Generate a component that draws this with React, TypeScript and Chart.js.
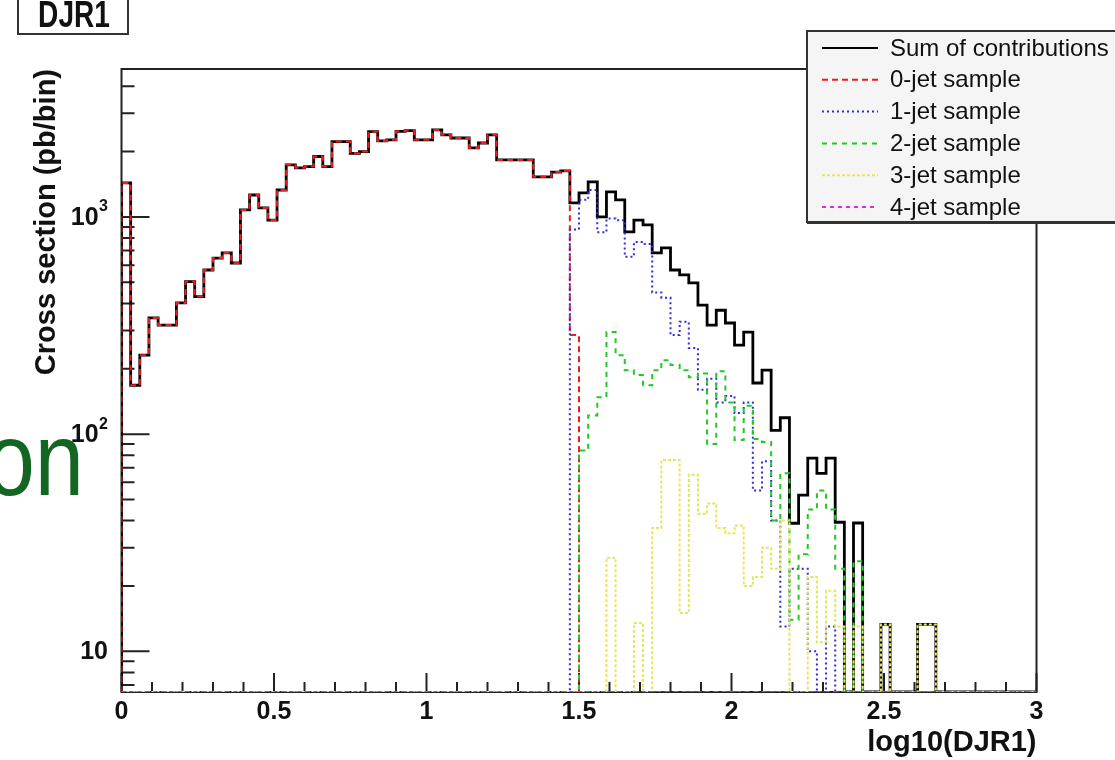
import React, { useEffect, useRef } from "react";
import { Chart, registerables } from "chart.js";

Chart.register(...registerables);

const FONT = '"Liberation Sans", Arial, Helvetica, sans-serif';

const X_MIN = 0;
const X_MAX = 3;
const Y_MIN = 6.5;
const Y_MAX = 4800;

// 100 bins of 0.03 in log10(DJR1)
const sumOfContributions = [
  1435, 168, 231, 343, 318, 318, 402, 504, 430, 570,
  647, 683, 614, 1077, 1262, 1100, 968, 1331, 1738, 1683,
  1706, 1898, 1706, 2225, 2225, 1963, 2000, 2471, 2240, 2265,
  2480, 2500, 2265, 2265, 2517, 2390, 2310, 2310, 2080, 2190,
  2390, 1830, 1830, 1830, 1830, 1530, 1530, 1610, 1630, 1160,
  1290, 1450, 1000, 1305, 1198, 853, 968, 919, 683, 720,
  570, 541, 497, 393, 318, 372, 325, 257, 295, 172,
  197, 104, 119, 38.9, 52.4, 77.5, 66, 77.5, 39.3, 0,
  39, 0, 0, 13.3, 0, 0, 0, 13.3, 13.3, 0,
  0, 0, 0, 0, 0, 0, 0, 0, 0, 0,
];

const jet0Sample = [
  1435, 168, 231, 343, 318, 318, 402, 504, 430, 570,
  647, 683, 614, 1077, 1262, 1100, 968, 1331, 1738, 1683,
  1706, 1898, 1706, 2225, 2225, 1963, 2000, 2471, 2240, 2265,
  2480, 2500, 2265, 2265, 2517, 2390, 2310, 2310, 2080, 2190,
  2390, 1830, 1830, 1830, 1830, 1530, 1530, 1610, 1630, 286,
  0, 0, 0, 0, 0, 0, 0, 0, 0, 0,
  0, 0, 0, 0, 0, 0, 0, 0, 0, 0,
  0, 0, 0, 0, 0, 0, 0, 0, 0, 0,
  0, 0, 0, 0, 0, 0, 0, 0, 0, 0,
  0, 0, 0, 0, 0, 0, 0, 0, 0, 0,
];

const jet1Sample = [
  0, 0, 0, 0, 0, 0, 0, 0, 0, 0,
  0, 0, 0, 0, 0, 0, 0, 0, 0, 0,
  0, 0, 0, 0, 0, 0, 0, 0, 0, 0,
  0, 0, 0, 0, 0, 0, 0, 0, 0, 0,
  0, 0, 0, 0, 0, 0, 0, 0, 0, 875,
  1200, 1330, 850, 983, 967, 656, 767, 751, 449, 425,
  286, 329, 249, 160, 180, 140, 150, 125, 140, 55,
  75, 40, 13, 24, 24, 10, 0, 13, 0, 0,
  0, 0, 0, 0, 0, 0, 0, 0, 0, 0,
  0, 0, 0, 0, 0, 0, 0, 0, 0, 0,
];

const jet2Sample = [
  0, 0, 0, 0, 0, 0, 0, 0, 0, 0,
  0, 0, 0, 0, 0, 0, 0, 0, 0, 0,
  0, 0, 0, 0, 0, 0, 0, 0, 0, 0,
  0, 0, 0, 0, 0, 0, 0, 0, 0, 0,
  0, 0, 0, 0, 0, 0, 0, 0, 0, 0,
  84, 122, 148, 295, 231, 197, 187, 168, 197, 219,
  208, 197, 183, 190, 90, 195, 140, 94, 135, 95,
  92, 40, 66, 14, 28, 45, 55, 45, 24, 0,
  26, 0, 0, 0, 0, 0, 0, 0, 0, 0,
  0, 0, 0, 0, 0, 0, 0, 0, 0, 0,
];

const jet3Sample = [
  0, 0, 0, 0, 0, 0, 0, 0, 0, 0,
  0, 0, 0, 0, 0, 0, 0, 0, 0, 0,
  0, 0, 0, 0, 0, 0, 0, 0, 0, 0,
  0, 0, 0, 0, 0, 0, 0, 0, 0, 0,
  0, 0, 0, 0, 0, 0, 0, 0, 0, 0,
  0, 0, 0, 27, 0, 0, 13.5, 0, 37, 76,
  76, 15, 65, 43, 48, 37, 35, 38, 20, 22,
  30, 24, 40, 0, 0, 22, 11, 19, 13, 0,
  13, 0, 0, 13.3, 0, 0, 0, 13.3, 13.3, 0,
  0, 0, 0, 0, 0, 0, 0, 0, 0, 0,
];

const jet4Sample = [
  0, 0, 0, 0, 0, 0, 0, 0, 0, 0,
  0, 0, 0, 0, 0, 0, 0, 0, 0, 0,
  0, 0, 0, 0, 0, 0, 0, 0, 0, 0,
  0, 0, 0, 0, 0, 0, 0, 0, 0, 0,
  0, 0, 0, 0, 0, 0, 0, 0, 0, 0,
  0, 0, 0, 0, 0, 0, 0, 0, 0, 0,
  0, 0, 0, 0, 0, 0, 0, 0, 0, 0,
  0, 0, 0, 0, 0, 0, 0, 0, 0, 0,
  0, 0, 0, 0, 0, 0, 0, 0, 0, 0,
  0, 0, 0, 0, 0, 0, 0, 0, 0, 0,
];

const seriesLabels = [
  "Sum of contributions",
  "0-jet sample",
  "1-jet sample",
  "2-jet sample",
  "3-jet sample",
  "4-jet sample",
];
const seriesValues = [sumOfContributions, jet0Sample, jet1Sample, jet2Sample, jet3Sample, jet4Sample];
const seriesColors = ["#000000", "#ee1c1c", "#2e2ed6", "#24c824", "#e6e65c", "#e02ae0"];
const seriesDashes = [[], [6, 4], [2, 3], [5, 5], [3, 2], [4, 4]];
const seriesWidths = [2.8, 2, 2, 2, 2, 2];

const xTickValues = [0, 0.5, 1, 1.5, 2, 2.5, 3];
const xTickLabels = ["0", "0.5", "1", "1.5", "2", "2.5", "3"];
const xMinorTickValues = [
  0.1, 0.2, 0.3, 0.4, 0.6, 0.7, 0.8, 0.9, 1.1, 1.2, 1.3, 1.4, 1.6, 1.7, 1.8, 1.9,
  2.1, 2.2, 2.3, 2.4, 2.6, 2.7, 2.8, 2.9,
];
const yTickValues = [10, 100, 1000];
const yTickBases = ["10", "10", "10"];
const yTickExponents = ["", "2", "3"];
const yMinorTickValues = [
  7, 8, 9, 20, 30, 40, 50, 60, 70, 80, 90, 200, 300, 400, 500, 600, 700, 800, 900, 2000, 3000, 4000,
];

function histogramPoints(values: number[]) {
  const width = (X_MAX - X_MIN) / values.length;
  const floor = (v: number) => (v > 0 ? v : Y_MIN);
  const pts: { x: number; y: number }[] = [{ x: X_MIN, y: Y_MIN }];
  values.forEach((v, i) => pts.push({ x: X_MIN + i * width, y: floor(v) }));
  pts.push({ x: X_MAX, y: floor(values[values.length - 1]) });
  return pts;
}

const decorPlugin = {
  id: "rootDecor",
  beforeDraw(chart: any) {
    const { ctx } = chart;
    ctx.save();
    ctx.fillStyle = "#ffffff";
    ctx.fillRect(0, 0, chart.width, chart.height);
    // slide text fragment behind the plot
    ctx.fillStyle = "#136622";
    ctx.font = `104px ${FONT}`;
    ctx.textAlign = "right";
    ctx.textBaseline = "alphabetic";
    ctx.translate(84, 495);
    ctx.scale(0.85, 1);
    ctx.fillText("on", 0, 0);
    ctx.restore();
  },
  beforeDatasetsDraw(chart: any) {
    const { ctx, chartArea: a, scales } = chart;
    const x = scales.x;
    const y = scales.y;
    ctx.save();
    ctx.strokeStyle = "#222";
    ctx.lineWidth = 2;
    ctx.strokeRect(a.left, a.top, a.right - a.left, a.bottom - a.top);
    ctx.beginPath();
    xTickValues.forEach((v) => {
      const px = x.getPixelForValue(v);
      ctx.moveTo(px, a.bottom);
      ctx.lineTo(px, a.bottom - 19);
    });
    xMinorTickValues.forEach((v) => {
      const px = x.getPixelForValue(v);
      ctx.moveTo(px, a.bottom);
      ctx.lineTo(px, a.bottom - 10);
    });
    yTickValues.forEach((v) => {
      const py = y.getPixelForValue(v);
      ctx.moveTo(a.left, py);
      ctx.lineTo(a.left + 28, py);
    });
    yMinorTickValues.forEach((v) => {
      const py = y.getPixelForValue(v);
      ctx.moveTo(a.left, py);
      ctx.lineTo(a.left + 13, py);
    });
    ctx.stroke();
    ctx.restore();
  },
  afterDraw(chart: any) {
    const { ctx, scales } = chart;
    ctx.save();
    // y tick labels with superscript exponents
    const y = scales.y;
    yTickValues.forEach((v, i) => {
      const py = y.getPixelForValue(v);
      const right = 108;
      ctx.fillStyle = "#111";
      ctx.textBaseline = "middle";
      ctx.textAlign = "right";
      let baseRight = right;
      if (yTickExponents[i]) {
        ctx.font = `bold 16px ${FONT}`;
        ctx.fillText(yTickExponents[i], right, py - 10);
        baseRight = right - ctx.measureText(yTickExponents[i]).width - 0.5;
      }
      ctx.font = `bold 25px ${FONT}`;
      ctx.fillText(yTickBases[i], baseRight, py + 1);
    });

    // legend box
    const L = { x: 807, y: 31, w: 330, h: 191 };
    ctx.fillStyle = "#f5f5f5";
    ctx.fillRect(L.x, L.y, L.w, L.h);
    ctx.strokeStyle = "#333";
    ctx.lineWidth = 2;
    ctx.strokeRect(L.x, L.y, L.w, L.h);
    ctx.fillStyle = "#333";
    ctx.fillRect(L.x, L.y + L.h, L.w, 2);
    chart.data.datasets.forEach((ds: any, i: number) => {
      const ry = 48 + i * 31.8;
      ctx.save();
      ctx.strokeStyle = ds.borderColor;
      ctx.lineWidth = Math.min(ds.borderWidth, 2.2);
      ctx.setLineDash(ds.borderDash || []);
      ctx.beginPath();
      ctx.moveTo(822, ry);
      ctx.lineTo(878, ry);
      ctx.stroke();
      ctx.restore();
      ctx.fillStyle = "#111";
      ctx.font = `24px ${FONT}`;
      ctx.textAlign = "left";
      ctx.textBaseline = "middle";
      ctx.fillText(ds.label, 890, ry + 1);
    });
    // histogram name box (top-left, partly cut)
    ctx.fillStyle = "#ffffff";
    ctx.fillRect(18, -4, 110, 38);
    ctx.strokeStyle = "#333";
    ctx.lineWidth = 2;
    ctx.strokeRect(18, -4, 110, 38);
    ctx.fillStyle = "#111";
    ctx.font = `bold 36px ${FONT}`;
    ctx.textAlign = "center";
    ctx.textBaseline = "alphabetic";
    ctx.translate(74, 27);
    ctx.scale(0.78, 1);
    ctx.fillText("DJR1", 0, 0);
    ctx.restore();
  },
};

export default function App() {
  const canvasRef = useRef<HTMLCanvasElement | null>(null);

  useEffect(() => {
    const canvas = canvasRef.current;
    if (!canvas) return;
    const datasets = seriesValues.map((vals, i) => ({
      label: seriesLabels[i],
      data: histogramPoints(vals),
      borderColor: seriesColors[i],
      borderWidth: seriesWidths[i],
      borderDash: seriesDashes[i],
      stepped: true as const,
      fill: false,
      pointRadius: 0,
      order: i === 0 ? 10 : 6 - i,
    }));

    const chart = new Chart(canvas, {
      type: "line",
      data: { datasets },
      options: {
        responsive: false,
        animation: false,
        events: [],
        layout: { padding: { left: 0, right: 78.5, top: 69, bottom: 0 } },
        elements: { point: { radius: 0 }, line: { tension: 0 } },
        plugins: { legend: { display: false }, tooltip: { enabled: false } },
        scales: {
          x: {
            type: "linear",
            min: X_MIN,
            max: X_MAX,
            grid: { display: false, drawTicks: false },
            border: { display: false },
            afterBuildTicks: (s: any) => {
              s.ticks = xTickValues.map((v) => ({ value: v }));
            },
            afterFit: (s: any) => {
              s.height = 68;
            },
            ticks: {
              autoSkip: false,
              maxRotation: 0,
              padding: 5,
              color: "#111",
              font: { family: FONT, size: 25, weight: "bold" },
              callback: (v: any) => {
                const idx = xTickValues.indexOf(Number(v));
                return idx >= 0 ? xTickLabels[idx] : "";
              },
            },
            title: {
              display: true,
              text: "log10(DJR1)",
              align: "end",
              color: "#111",
              font: { family: FONT, size: 29, weight: "bold" },
              padding: { top: 0, bottom: 0 },
            },
          },
          y: {
            type: "logarithmic",
            min: Y_MIN,
            max: Y_MAX,
            grid: { display: false, drawTicks: false },
            border: { display: false },
            afterBuildTicks: (s: any) => {
              s.ticks = yTickValues.map((v) => ({ value: v }));
            },
            afterFit: (s: any) => {
              s.width = 121.5;
            },
            ticks: { display: false },
            title: {
              display: true,
              text: "Cross section (pb/bin)",
              align: "end",
              color: "#111",
              font: { family: FONT, size: 29, weight: "bold" },
              padding: { top: 30, bottom: 0 },
            },
          },
        },
      } as any,
      plugins: [decorPlugin],
    });
    return () => chart.destroy();
  }, []);

  return (
    <div style={{ position: "fixed", left: 0, top: 0, width: 1115, height: 760, background: "#fff" }}>
      <canvas ref={canvasRef} width={1115} height={760} style={{ display: "block", width: 1115, height: 760 }} />
    </div>
  );
}
